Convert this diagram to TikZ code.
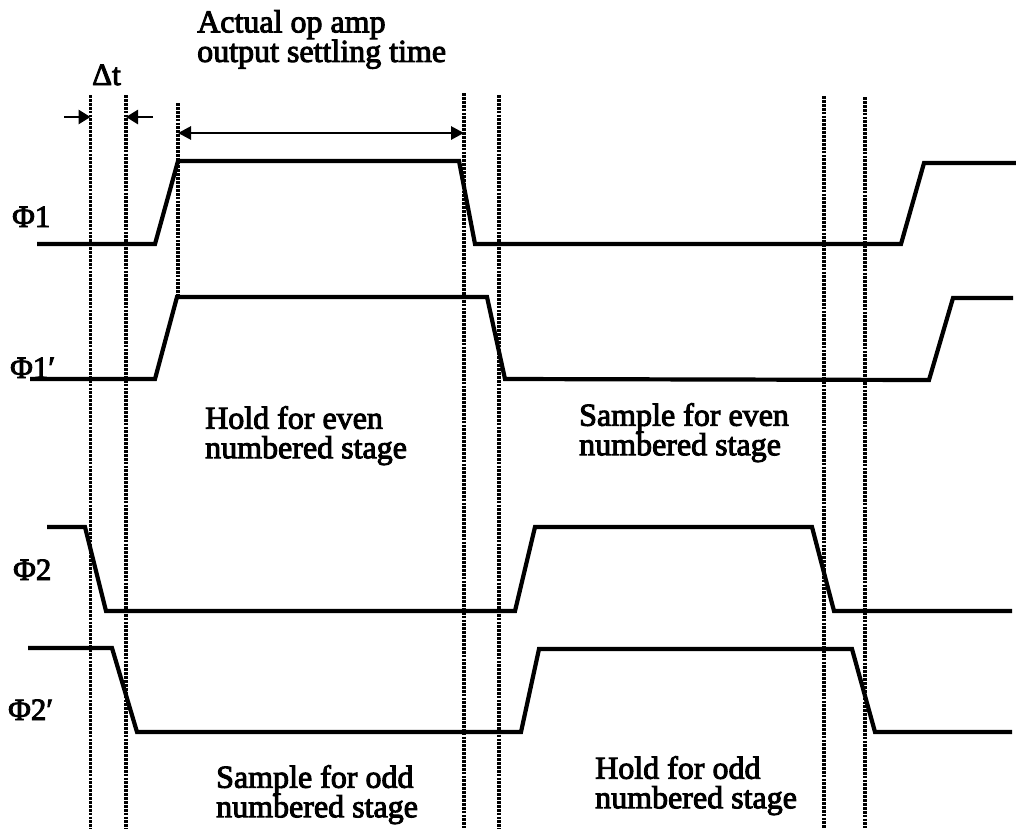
\documentclass[tikz,border=0pt]{standalone}
\usepackage{fontspec}
\setmainfont{Liberation Serif}[FakeBold=3]
\usetikzlibrary{arrows.meta}
\begin{document}
\begin{tikzpicture}[x=1pt,y=-1pt,
  wave/.style={line width=4.2pt, line join=miter},
  dotline/.style={line width=3.8pt, line cap=butt, dash pattern=on 2.8pt off 1.1pt},
  lbl/.style={font=\fontsize{32}{29.5}\selectfont, inner sep=0pt, align=left, anchor=north west},
  sig/.style={font=\fontsize{31}{31}\selectfont, inner sep=0pt, anchor=base west},
  marr/.style={line width=2.8pt, -{Triangle[length=12pt,width=14pt]}},
  darr/.style={line width=2.8pt, {Triangle[length=13pt,width=13pt]}-{Triangle[length=13pt,width=13pt]}}]
\useasboundingbox (0,0) rectangle (1016,836);

% dotted time markers
\coordinate (d1t) at (90.5,95);  \coordinate (d1b) at (90.5,829);
\coordinate (d2t) at (126,95);   \coordinate (d2b) at (126,829);
\coordinate (d3t) at (178,103);  \coordinate (d3b) at (178,298);
\coordinate (d4t) at (464,93);   \coordinate (d4b) at (464,828);
\coordinate (d5t) at (499,95);   \coordinate (d5b) at (499,829);
\coordinate (d6t) at (824,96);   \coordinate (d6b) at (824,828);
\coordinate (d7t) at (865,97);   \coordinate (d7b) at (865,828);
\foreach \i in {1,...,7} {\draw[dotline] (d\i t) -- (d\i b);}

% waveforms
\draw[wave] (37,244) -- (155,244) -- (178,161) -- (459,161) -- (475,244)
  -- (901,244) -- (924,163) -- (1016,163);
\draw[wave] (30,379) -- (155,379) -- (177,297) -- (487,297) -- (505,379)
  -- (929,380) -- (953,298) -- (1013,298);
\draw[wave] (47,527) -- (85,527) -- (106,611) -- (515,611) -- (535,527)
  -- (812,527) -- (834,611) -- (1012,611);
\draw[wave] (28,648) -- (112,648) -- (137,732) -- (521,732) -- (539,649)
  -- (852,649) -- (875,732) -- (1012,732);

% arrows
\coordinate (a1s) at (64,117);  \coordinate (a1e) at (90.5,117);
\coordinate (a2s) at (153,117); \coordinate (a2e) at (126,117);
\draw[marr] (a1s) -- (a1e);
\draw[marr] (a2s) -- (a2e);
\coordinate (s1) at (178,133); \coordinate (s2) at (464,133);
\draw[darr] (s1) -- (s2);

% labels
\node[sig] (dt) at (92,85) {Δt};
\node[lbl] (settle) at (197,10) {Actual op amp\\output settling time};
\node[lbl] (holdeven) at (205,406) {Hold for even\\numbered stage};
\node[lbl] (sampeven) at (579,403) {Sample for even\\numbered stage};
\node[lbl] (sampodd) at (216,765) {Sample for odd\\numbered stage};
\node[lbl] (holdodd) at (595,756) {Hold for odd\\numbered stage};
\node[sig] (p1) at (12,227) {Φ1};
\node[sig] (p1p) at (10,378) {Φ1′};
\node[sig] (p2) at (13,580) {Φ2};
\node[sig] (p2p) at (8,720) {Φ2′};
\end{tikzpicture}
\end{document}
